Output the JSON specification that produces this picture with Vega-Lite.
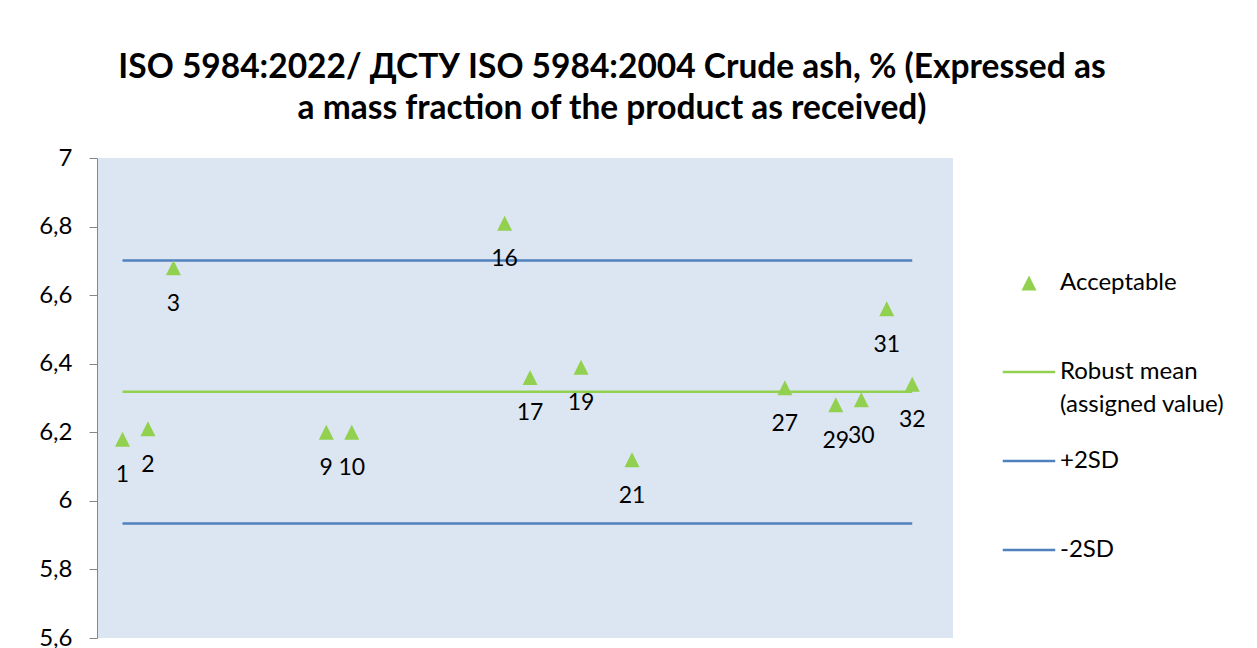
{
  "$schema": "https://vega.github.io/schema/vega-lite/v6.json",
  "width": 856,
  "height": 480,
  "autosize": "none",
  "padding": {"left": 97, "top": 158, "right": 304, "bottom": 10},
  "background": "#ffffff",
  "config": {
    "font": "Lato",
    "view": {"fill": "#dce6f2", "stroke": null}
  },
  "title": {
    "text": ["ISO 5984:2022/ ДСТУ ISO 5984:2004 Crude ash, % (Expressed as", "a mass fraction of the product as received)"],
    "font": "Lato",
    "fontSize": 33.5,
    "fontWeight": "bold",
    "color": "#000000",
    "lineHeight": 41,
    "anchor": "middle",
    "frame": "group",
    "dx": 87,
    "offset": 20
  },
  "datasets": {
    "points": [
      {"participant": 1, "result": 6.18, "series": "Acceptable"},
      {"participant": 2, "result": 6.21, "series": "Acceptable"},
      {"participant": 3, "result": 6.68, "series": "Acceptable"},
      {"participant": 9, "result": 6.20, "series": "Acceptable"},
      {"participant": 10, "result": 6.20, "series": "Acceptable"},
      {"participant": 16, "result": 6.81, "series": "Acceptable"},
      {"participant": 17, "result": 6.36, "series": "Acceptable"},
      {"participant": 19, "result": 6.39, "series": "Acceptable"},
      {"participant": 21, "result": 6.12, "series": "Acceptable"},
      {"participant": 27, "result": 6.33, "series": "Acceptable"},
      {"participant": 29, "result": 6.28, "series": "Acceptable"},
      {"participant": 30, "result": 6.295, "series": "Acceptable"},
      {"participant": 31, "result": 6.56, "series": "Acceptable"},
      {"participant": 32, "result": 6.34, "series": "Acceptable"}
    ],
    "limits": [
      {"participant": 1, "result": 6.318, "series": "Robust mean (assigned value)"},
      {"participant": 32, "result": 6.318, "series": "Robust mean (assigned value)"},
      {"participant": 1, "result": 6.701, "series": "+2SD"},
      {"participant": 32, "result": 6.701, "series": "+2SD"},
      {"participant": 1, "result": 5.934, "series": "-2SD"},
      {"participant": 32, "result": 5.934, "series": "-2SD"}
    ]
  },
  "encoding": {
    "x": {"field": "participant", "type": "quantitative", "scale": {"domain": [0, 33.6], "nice": false, "zero": false}, "axis": null},
    "y": {
      "field": "result", "type": "quantitative",
      "scale": {"domain": [5.6, 7], "nice": false, "zero": false},
      "axis": {
        "title": null,
        "values": [5.6, 5.8, 6, 6.2, 6.4, 6.6, 6.8, 7],
        "labelExpr": "replace(format(datum.value, '~g'), '.', ',')",
        "grid": false,
        "domainColor": "#868686",
        "domainWidth": 1,
        "tickColor": "#868686",
        "tickSize": 8,
        "labelFont": "Lato",
        "labelFontSize": 24,
        "labelColor": "#000000",
        "labelPadding": 17
      }
    }
  },
  "layer": [
    {
      "data": {"name": "limits"},
      "mark": {"type": "line", "strokeWidth": 2.5},
      "encoding": {
        "color": {"field": "series", "type": "nominal",
          "scale": {"domain": ["Acceptable", "Robust mean (assigned value)", "+2SD", "-2SD"], "range": ["#92d050", "#92d050", "#4f81bd", "#4f81bd"]}},
        "detail": {"field": "series"}
      }
    },
    {
      "data": {"name": "points"},
      "mark": {"type": "point", "filled": true, "opacity": 1, "size": 225},
      "encoding": {
        "color": {"field": "series", "type": "nominal",
          "scale": {"domain": ["Acceptable", "Robust mean (assigned value)", "+2SD", "-2SD"], "range": ["#92d050", "#92d050", "#4f81bd", "#4f81bd"]},
          "legend": {
            "title": null,
            "orient": "none",
            "legendX": 920,
            "legendY": 113,
            "padding": 0,
            "gridAlign": "all",
            "symbolSize": 225,
            "symbolOpacity": 1,
            "labelFont": "Lato",
            "labelFontSize": 24,
            "labelColor": "#000000",
            "labelOffset": 19,
            "labelLimit": 300,
            "rowPadding": 32,
            "labelExpr": "datum.label == 'Robust mean (assigned value)' ? ['Robust mean', '(assigned value)'] : datum.label",
            "encode": {
              "symbols": {"update": {
                "stroke": {"scale": "color", "field": "value"},
                "strokeWidth": {"signal": "datum.value == 'Acceptable' ? 0 : 2.5"}
              }},
              "labels": {"update": {"lineHeight": {"value": 33}}}
            }
          }
        },
        "shape": {"field": "series", "type": "nominal",
          "scale": {"domain": ["Acceptable", "Robust mean (assigned value)", "+2SD", "-2SD"], "range": ["M0,-1L1,1L-1,1Z", "M-3.5,0H3.5", "M-3.5,0H3.5", "M-3.5,0H3.5"]}}
      }
    },
    {
      "data": {"name": "points"},
      "mark": {"type": "text", "dy": 36, "fontSize": 23, "font": "Lato", "color": "#000000", "baseline": "middle", "align": "center"},
      "encoding": {
        "text": {"field": "participant", "type": "quantitative"}
      }
    }
  ]
}
